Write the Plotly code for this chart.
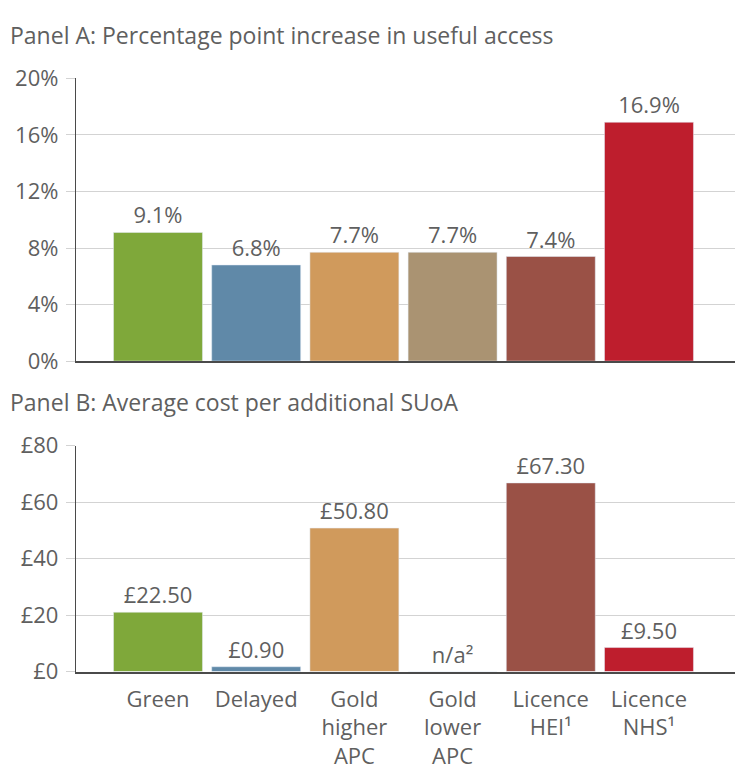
import plotly.graph_objects as go

categories = ["Green", "Delayed", "Gold<br>higher<br>APC", "Gold<br>lower<br>APC",
              "Licence<br>HEI¹", "Licence<br>NHS¹"]
colors = ["#7FA83A", "#6089A8", "#D09A5C", "#AA9372", "#9A5146", "#BE1E2D"]

# Panel A
access_increase = [9.1, 6.8, 7.7, 7.7, 7.4, 16.9]
access_labels = ["9.1%", "6.8%", "7.7%", "7.7%", "7.4%", "16.9%"]
a_tickvals = [0, 4, 8, 12, 16, 20]
a_ticktext = ["0%", "4%", "8%", "12%", "16%", "20%"]

# Panel B (bar heights as drawn, labels as printed)
cost_bars = [21.0, 1.7, 50.8, 0.0, 66.8, 8.5]
cost_labels = ["£22.50", "£0.90", "£50.80", "n/a²", "£67.30", "£9.50"]
b_tickvals = [0, 20, 40, 60, 80]
b_ticktext = ["£0", "£20", "£40", "£60", "£80"]

FONT = "Open Sans"
TXT = "#5F5F5F"
FS = 22
FS_TITLE = 23

x_idx = list(range(len(categories)))

fig = go.Figure()
fig.add_trace(go.Bar(x=x_idx, y=access_increase, marker_color=colors,
                     text=access_labels, textposition="outside",
                     textfont=dict(family=FONT, size=FS, color=TXT),
                     cliponaxis=False, xaxis="x", yaxis="y", showlegend=False,
                     hoverinfo="skip"))
fig.add_trace(go.Bar(x=x_idx, y=cost_bars, marker_color=colors,
                     text=cost_labels, textposition="outside",
                     textfont=dict(family=FONT, size=FS, color=TXT),
                     cliponaxis=False, xaxis="x2", yaxis="y2", showlegend=False,
                     hoverinfo="skip"))

W, H = 739, 773
xdom = [76 / W, 735 / W]
xr = [-0.835, 5.876]

common_y = dict(showgrid=True, gridcolor="#D3D3D3", gridwidth=1.3,
                showline=True, linecolor="#4A4A4A", linewidth=1.3,
                ticks="outside", ticklen=9, tickcolor="#D3D3D3", tickwidth=1.3,
                ticklabelstandoff=3,
                tickfont=dict(family=FONT, size=FS, color=TXT),
                zeroline=False, fixedrange=True)

fig.update_layout(
    width=W, height=H,
    margin=dict(l=0, r=0, t=0, b=0),
    paper_bgcolor="white", plot_bgcolor="white",
    bargap=0.094,
    font=dict(family=FONT, color=TXT, size=FS),
    xaxis=dict(domain=xdom, anchor="y", range=xr, showticklabels=False,
               showline=True, linecolor="#4A4A4A", linewidth=1.5, ticks="",
               showgrid=False, zeroline=False, fixedrange=True),
    yaxis=dict(domain=[1 - 359 / H, 1 - 65 / H], anchor="x", range=[0, 20],
               tickvals=a_tickvals, ticktext=a_ticktext, **common_y),
    xaxis2=dict(domain=xdom, anchor="y2", range=xr, tickvals=x_idx,
                ticktext=categories, showline=True, linecolor="#4A4A4A",
                linewidth=1.5, ticks="", showgrid=False, zeroline=False,
                ticklabelstandoff=7, fixedrange=True,
                tickfont=dict(family=FONT, size=FS, color=TXT)),
    yaxis2=dict(domain=[1 - 682 / H, 1 - 447 / H], anchor="x2", range=[0, 80],
                tickvals=b_tickvals, ticktext=b_ticktext, **common_y),
    annotations=[
        dict(text="Panel A: Percentage point increase in useful access",
             xref="paper", yref="paper", x=8 / W, y=1 - 20 / H,
             xanchor="left", yanchor="middle", showarrow=False,
             font=dict(family=FONT, size=FS_TITLE, color=TXT)),
        dict(text="Panel B: Average cost per additional SUoA",
             xref="paper", yref="paper", x=8 / W, y=1 - 402 / H,
             xanchor="left", yanchor="middle", showarrow=False,
             font=dict(family=FONT, size=FS_TITLE, color=TXT)),
    ],
)

fig.write_html("out.html", config={"responsive": False, "displayModeBar": False},
               post_script="document.body.style.margin='0';")
